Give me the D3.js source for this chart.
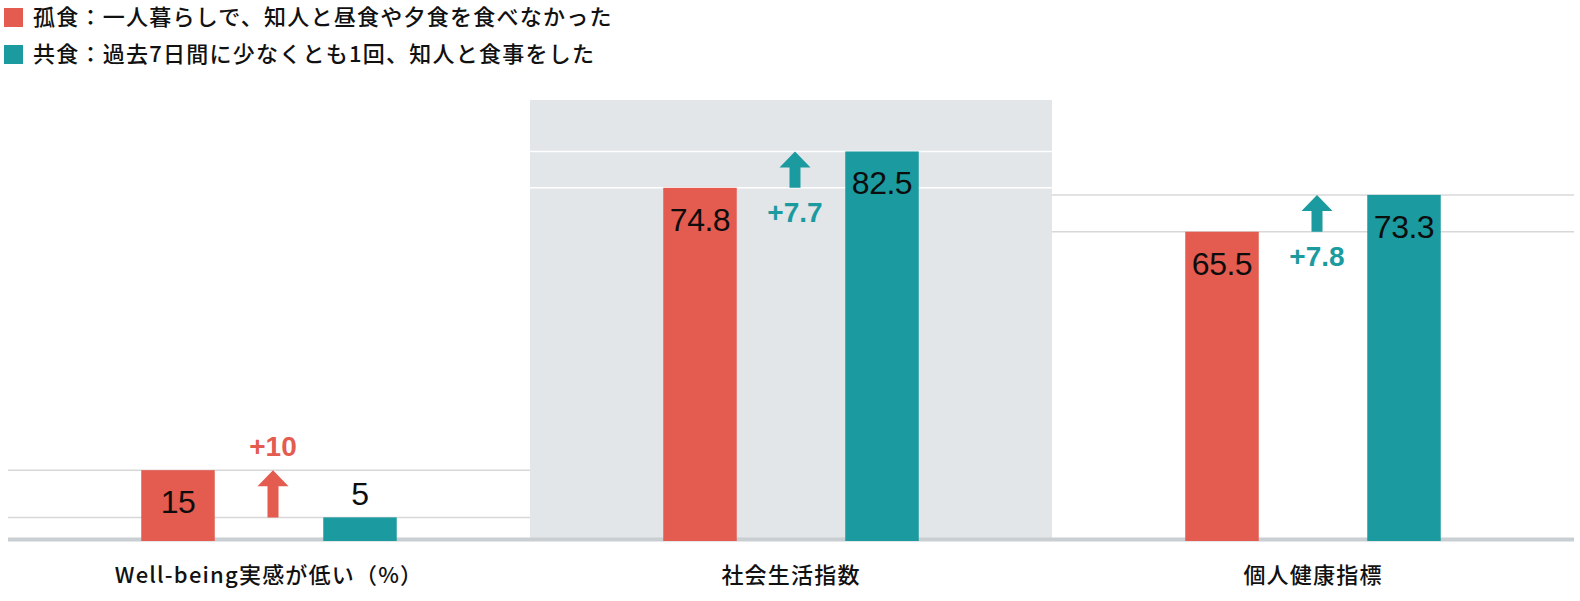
<!DOCTYPE html>
<html>
<head>
<meta charset="utf-8">
<script src="https://cdn.jsdelivr.net/npm/d3@7/dist/d3.min.js"></script>
<style>
  html, body { margin: 0; padding: 0; background: #fff; }
  svg { display: block; }
</style>
</head>
<body>
<svg id="chart" width="1580" height="601"></svg>
<script>
// ---- data ----
const categories = ["Well-being実感が低い（%）", "社会生活指数", "個人健康指標"];
const seriesNames = ["孤食：一人暮らしで、知人と昼食や夕食を食べなかった", "共食：過去7日間に少なくとも1回、知人と食事をした"];
const soloValues = [15, 74.8, 65.5];
const sharedValues = [5, 82.5, 73.3];
const diffLabels = ["+10", "+7.7", "+7.8"];
const shadedCategory = "社会生活指数";

// ---- styles ----
const RED = "#e45b4f", TEAL = "#1b9a9f";
const seriesColors = [RED, TEAL];
const PANEL = "#e2e6e9", BASE = "#c9ced2", REF = "#d8d8d8";
const CJK = "'Noto Sans CJK JP','Noto Sans',sans-serif";
const NUM = "'Liberation Sans','Helvetica',Arial,sans-serif";

const svg = d3.select("#chart");

const x = d3.scaleBand().domain(categories).range([8, 1574]).paddingInner(0).paddingOuter(0);
const xs = d3.scalePoint().domain(seriesNames).range([-91, 91]);
const y = d3.scaleLinear().domain([0, 93.4]).range([541, 100]);
const barW = 73.5;

const groups = categories.map((c, i) => ({
  cat: c, i,
  vals: [soloValues[i], sharedValues[i]],
  diff: diffLabels[i]
}));

// shaded panel
svg.append("rect")
  .attr("x", x(shadedCategory)).attr("y", y(y.domain()[1]))
  .attr("width", x.bandwidth()).attr("height", y(0) - y(y.domain()[1]))
  .attr("fill", PANEL);

// reference lines at bar tops
groups.forEach(g => {
  g.vals.forEach(v => {
    svg.append("line")
      .attr("x1", x(g.cat)).attr("x2", x(g.cat) + x.bandwidth())
      .attr("y1", y(v)).attr("y2", y(v))
      .attr("stroke", g.cat === shadedCategory ? "#ffffff" : REF)
      .attr("stroke-width", 1.5);
  });
});

// baseline
svg.append("rect")
  .attr("x", x.range()[0]).attr("y", y(0) - 3.5)
  .attr("width", x.range()[1] - x.range()[0]).attr("height", 4)
  .attr("fill", BASE);

// bars
groups.forEach(g => {
  const cx = x(g.cat) + x.bandwidth() / 2;
  g.vals.forEach((v, k) => {
    const bx = cx + xs(seriesNames[k]) - barW / 2;
    svg.append("rect")
      .attr("x", bx).attr("y", y(v))
      .attr("width", barW).attr("height", y(0) - y(v))
      .attr("fill", seriesColors[k]);
    const inside = (y(0) - y(v)) > 50;
    svg.append("text")
      .attr("x", cx + xs(seriesNames[k]))
      .attr("y", inside ? y(v) + 43 : y(v) - 12)
      .attr("text-anchor", "middle")
      .attr("font-family", NUM).attr("font-size", 32)
      .attr("letter-spacing", -0.5)
      .attr("fill", "#0d0d0d")
      .text(v);
  });

  // arrow from lower value to higher value
  const hi = Math.max(...g.vals), lo = Math.min(...g.vals);
  const col = g.vals[0] > g.vals[1] ? RED : TEAL;
  const ax = cx + 4;
  const yt = y(hi), yb = y(lo);
  const hh = 16, hw = 15.5, sw = 5.5;
  svg.append("path")
    .attr("d", `M${ax},${yt} L${ax + hw},${yt + hh} L${ax + sw},${yt + hh} L${ax + sw},${yb} L${ax - sw},${yb} L${ax - sw},${yt + hh} L${ax - hw},${yt + hh} Z`)
    .attr("fill", col);
  const above = yb + 40 > y(0) - 10;
  svg.append("text")
    .attr("x", ax)
    .attr("y", above ? yt - 14 : yb + 34)
    .attr("text-anchor", "middle")
    .attr("font-family", NUM).attr("font-weight", "bold").attr("font-size", 28)
    .attr("fill", col)
    .text(g.diff);

  // category label
  svg.append("text")
    .attr("x", cx).attr("y", 583)
    .attr("text-anchor", "middle")
    .attr("font-family", CJK).attr("font-weight", 500).attr("font-size", 22)
    .attr("letter-spacing", 1.2)
    .attr("fill", "#111")
    .text(g.cat);
});

// legend
const legend = svg.append("g");
seriesNames.forEach((s, k) => {
  const ly = 8 + k * 37;
  legend.append("rect")
    .attr("x", 4).attr("y", ly).attr("width", 19).attr("height", 19)
    .attr("fill", seriesColors[k]);
  legend.append("text")
    .attr("x", 33).attr("y", ly + 17)
    .attr("font-family", CJK).attr("font-weight", 500).attr("font-size", 22)
    .attr("letter-spacing", 1.25)
    .attr("fill", "#111")
    .text(s);
});
</script>
</body>
</html>
